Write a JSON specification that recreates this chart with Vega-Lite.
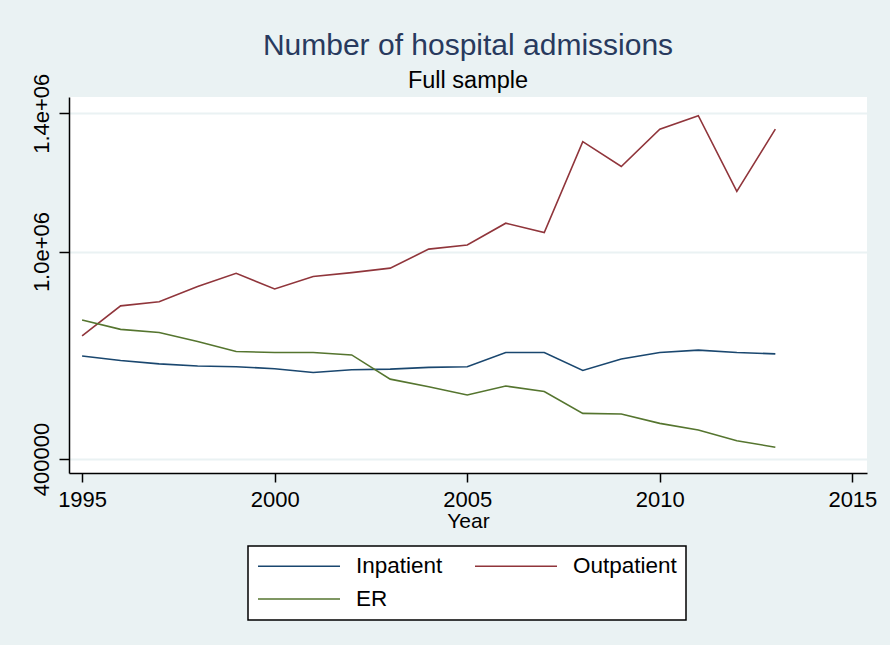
{
  "$schema": "https://vega.github.io/schema/vega-lite/v6.json",
  "autosize": "none",
  "width": 798,
  "height": 376,
  "padding": {"left": 69, "top": 97, "right": 23, "bottom": 172},
  "background": "#eaf2f3",
  "view": {"fill": "white", "stroke": null},
  "config": {"font": "Liberation Sans"},
  "title": {
    "text": "Number of hospital admissions",
    "subtitle": "Full sample",
    "fontSize": 30,
    "fontWeight": "normal",
    "color": "#283a5e",
    "subtitleFontSize": 23.5,
    "subtitleColor": "#000000",
    "subtitlePadding": 8,
    "anchor": "middle",
    "offset": -19
  },
  "data": {"values": [
    {"year": 1995, "type": "Inpatient", "value": 698000},
    {"year": 1996, "type": "Inpatient", "value": 685000},
    {"year": 1997, "type": "Inpatient", "value": 675000},
    {"year": 1998, "type": "Inpatient", "value": 669000},
    {"year": 1999, "type": "Inpatient", "value": 667000},
    {"year": 2000, "type": "Inpatient", "value": 661000},
    {"year": 2001, "type": "Inpatient", "value": 650000},
    {"year": 2002, "type": "Inpatient", "value": 658000},
    {"year": 2003, "type": "Inpatient", "value": 660000},
    {"year": 2004, "type": "Inpatient", "value": 665000},
    {"year": 2005, "type": "Inpatient", "value": 667000},
    {"year": 2006, "type": "Inpatient", "value": 708000},
    {"year": 2007, "type": "Inpatient", "value": 708000},
    {"year": 2008, "type": "Inpatient", "value": 656000},
    {"year": 2009, "type": "Inpatient", "value": 689000},
    {"year": 2010, "type": "Inpatient", "value": 708000},
    {"year": 2011, "type": "Inpatient", "value": 715000},
    {"year": 2012, "type": "Inpatient", "value": 708000},
    {"year": 2013, "type": "Inpatient", "value": 704000},
    {"year": 1995, "type": "Outpatient", "value": 756000},
    {"year": 1996, "type": "Outpatient", "value": 843000},
    {"year": 1997, "type": "Outpatient", "value": 855000},
    {"year": 1998, "type": "Outpatient", "value": 899000},
    {"year": 1999, "type": "Outpatient", "value": 937000},
    {"year": 2000, "type": "Outpatient", "value": 892000},
    {"year": 2001, "type": "Outpatient", "value": 928000},
    {"year": 2002, "type": "Outpatient", "value": 939000},
    {"year": 2003, "type": "Outpatient", "value": 952000},
    {"year": 2004, "type": "Outpatient", "value": 1007000},
    {"year": 2005, "type": "Outpatient", "value": 1019000},
    {"year": 2006, "type": "Outpatient", "value": 1082000},
    {"year": 2007, "type": "Outpatient", "value": 1055000},
    {"year": 2008, "type": "Outpatient", "value": 1318000},
    {"year": 2009, "type": "Outpatient", "value": 1246000},
    {"year": 2010, "type": "Outpatient", "value": 1354000},
    {"year": 2011, "type": "Outpatient", "value": 1393000},
    {"year": 2012, "type": "Outpatient", "value": 1174000},
    {"year": 2013, "type": "Outpatient", "value": 1354000},
    {"year": 1995, "type": "ER", "value": 802000},
    {"year": 1996, "type": "ER", "value": 775000},
    {"year": 1997, "type": "ER", "value": 766000},
    {"year": 1998, "type": "ER", "value": 740000},
    {"year": 1999, "type": "ER", "value": 711000},
    {"year": 2000, "type": "ER", "value": 708000},
    {"year": 2001, "type": "ER", "value": 708000},
    {"year": 2002, "type": "ER", "value": 701000},
    {"year": 2003, "type": "ER", "value": 631000},
    {"year": 2004, "type": "ER", "value": 609000},
    {"year": 2005, "type": "ER", "value": 585000},
    {"year": 2006, "type": "ER", "value": 611000},
    {"year": 2007, "type": "ER", "value": 595000},
    {"year": 2008, "type": "ER", "value": 532000},
    {"year": 2009, "type": "ER", "value": 530000},
    {"year": 2010, "type": "ER", "value": 503000},
    {"year": 2011, "type": "ER", "value": 484000},
    {"year": 2012, "type": "ER", "value": 453000},
    {"year": 2013, "type": "ER", "value": 434000}
  ]},
  "mark": {"type": "line", "strokeWidth": 1.6, "interpolate": "linear"},
  "encoding": {
    "x": {
      "field": "year",
      "type": "quantitative",
      "title": "Year",
      "scale": {"domain": [1994.66, 2015.38], "nice": false, "zero": false},
      "axis": {
        "values": [1995, 2000, 2005, 2010, 2015],
        "format": "d",
        "grid": false,
        "domainColor": "#000000",
        "domainWidth": 1.5,
        "tickColor": "#000000",
        "tickWidth": 1.5,
        "tickSize": 9,
        "labelPadding": 7,
        "labelFontSize": 22,
        "labelColor": "#000000",
        "labelFlush": false,
        "labelOverlap": false,
        "titleFontSize": 21,
        "titleFontWeight": "normal",
        "titleColor": "#000000",
        "titlePadding": 0
      }
    },
    "y": {
      "field": "value",
      "type": "quantitative",
      "title": null,
      "scale": {"domain": [359500, 1447000], "nice": false, "zero": false},
      "axis": {
        "values": [400000, 1000000, 1400000],
        "labelExpr": "datum.value == 400000 ? '400000' : datum.value == 1000000 ? '1.0e+06' : '1.4e+06'",
        "grid": true,
        "gridColor": "#eaf2f3",
        "gridWidth": 2,
        "domainColor": "#000000",
        "domainWidth": 1.5,
        "tickColor": "#000000",
        "tickWidth": 1.5,
        "tickSize": 10,
        "labelPadding": 6,
        "labelAngle": -90,
        "labelAlign": "center",
        "labelBaseline": "bottom",
        "labelFontSize": 22,
        "labelColor": "#000000",
        "labelFlush": false,
        "labelOverlap": false,
        "labelBound": false
      }
    },
    "color": {
      "field": "type",
      "type": "nominal",
      "title": null,
      "scale": {
        "domain": ["Inpatient", "Outpatient", "ER"],
        "range": ["#1a476f", "#90353b", "#55752f"]
      },
      "legend": {
        "orient": "none",
        "legendX": 179,
        "legendY": 449,
        "direction": "horizontal",
        "columns": 2,
        "symbolType": "stroke",
        "symbolSize": 6724,
        "symbolStrokeWidth": 1.6,
        "clipHeight": 22,
        "labelFontSize": 22.5,
        "labelColor": "#000000",
        "labelOffset": 15,
        "columnPadding": 31,
        "rowPadding": 10,
        "padding": 9,
        "fillColor": "#ffffff",
        "strokeColor": "#000000",
        "encode": {"legend": {"update": {"strokeWidth": {"value": 1.5}}}}
      }
    }
  }
}
